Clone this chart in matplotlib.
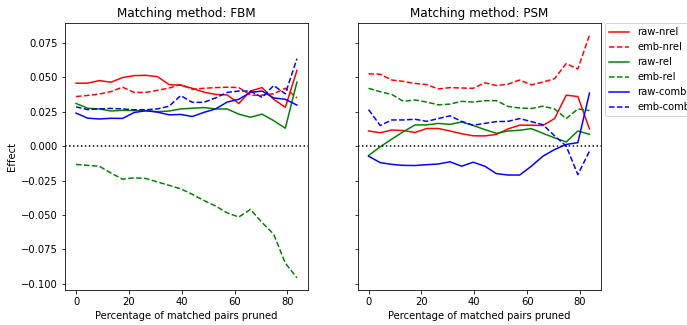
import numpy as np
import matplotlib
matplotlib.use('Agg')
import matplotlib.pyplot as plt

# percentage of matched pairs pruned
pruned = [0, 4.4, 8.8, 13.2, 17.6, 22.0, 26.4, 30.8, 35.2, 39.6,
          44.0, 48.4, 52.8, 57.2, 61.6, 66.0, 70.4, 74.8, 79.2, 83.6]

#**************************** FBM ********************************
fbm_raw_nrel = [0.0457, 0.0457, 0.0476, 0.0464, 0.0498, 0.0512, 0.0514, 0.0505, 0.0447, 0.0442,
                0.0420, 0.0392, 0.0375, 0.0372, 0.0310, 0.0400, 0.0425, 0.0340, 0.0282, 0.0550]
fbm_emb_nrel = [0.0360, 0.0368, 0.0378, 0.0396, 0.0428, 0.0390, 0.0390, 0.0405, 0.0422, 0.0447,
                0.0413, 0.0420, 0.0425, 0.0428, 0.0425, 0.0370, 0.0370, 0.0380, 0.0420, 0.0350]
fbm_raw_rel = [0.0310, 0.0275, 0.0270, 0.0255, 0.0260, 0.0258, 0.0257, 0.0250, 0.0255, 0.0270,
               0.0275, 0.0280, 0.0270, 0.0270, 0.0232, 0.0210, 0.0232, 0.0185, 0.0130, 0.0465]
fbm_emb_rel = [-0.0133, -0.0140, -0.0146, -0.0195, -0.0240, -0.0230, -0.0235, -0.0260, -0.0285, -0.0310,
               -0.0350, -0.0395, -0.0435, -0.0485, -0.0515, -0.0460, -0.0555, -0.0640, -0.0850, -0.0957]
fbm_raw_comb = [0.0240, 0.0203, 0.0197, 0.0202, 0.0201, 0.0244, 0.0257, 0.0247, 0.0227, 0.0230,
                0.0215, 0.0245, 0.0270, 0.0320, 0.0340, 0.0390, 0.0400, 0.0350, 0.0340, 0.0298]
fbm_emb_comb = [0.0285, 0.0265, 0.0270, 0.0274, 0.0270, 0.0264, 0.0264, 0.0270, 0.0290, 0.0367,
                0.0318, 0.0318, 0.0350, 0.0390, 0.0400, 0.0400, 0.0354, 0.0440, 0.0380, 0.0635]

#**************************** PSM ********************************
psm_raw_nrel = [0.0110, 0.0097, 0.0117, 0.0113, 0.0099, 0.0128, 0.0128, 0.0110, 0.0090, 0.0075,
                0.0074, 0.0085, 0.0125, 0.0152, 0.0152, 0.0150, 0.0200, 0.0370, 0.0360, 0.0125]
psm_emb_nrel = [0.0525, 0.0522, 0.0480, 0.0470, 0.0455, 0.0447, 0.0415, 0.0425, 0.0422, 0.0420,
                0.0460, 0.0440, 0.0450, 0.0480, 0.0445, 0.0465, 0.0490, 0.0600, 0.0560, 0.0806]
psm_raw_rel = [-0.0068, -0.0005, 0.0051, 0.0105, 0.0154, 0.0154, 0.0165, 0.0158, 0.0175, 0.0150,
               0.0120, 0.0093, 0.0110, 0.0115, 0.0127, 0.0093, 0.0060, 0.0030, 0.0110, 0.0086]
psm_emb_rel = [0.0420, 0.0395, 0.0375, 0.0325, 0.0335, 0.0320, 0.0300, 0.0305, 0.0325, 0.0320,
               0.0330, 0.0330, 0.0288, 0.0277, 0.0273, 0.0290, 0.0270, 0.0200, 0.0270, 0.0258]
psm_raw_comb = [-0.0073, -0.0120, -0.0133, -0.0140, -0.0141, -0.0135, -0.0130, -0.0114, -0.0146, -0.0117,
                -0.0146, -0.0200, -0.0210, -0.0210, -0.0146, -0.0073, -0.0025, 0.0012, 0.0025, 0.0385]
psm_emb_comb = [0.0265, 0.0150, 0.0190, 0.0190, 0.0195, 0.0180, 0.0200, 0.0220, 0.0180, 0.0152,
                0.0165, 0.0178, 0.0180, 0.0200, 0.0178, 0.0155, 0.0075, 0.0000, -0.0207, -0.0037]

labels = ['raw-nrel', 'emb-nrel', 'raw-rel', 'emb-rel', 'raw-comb', 'emb-comb']
styles = ['r-', 'r--', 'g-', 'g--', 'b-', 'b--']

fig = plt.figure(figsize=(687/72., 325/72.))
ax1 = fig.add_axes([0.0946, 0.1077, 0.3537, 0.8215])
ax2 = fig.add_axes([0.5204, 0.1077, 0.3537, 0.8215], sharey=ax1)

fbm = [fbm_raw_nrel, fbm_emb_nrel, fbm_raw_rel, fbm_emb_rel, fbm_raw_comb, fbm_emb_comb]
psm = [psm_raw_nrel, psm_emb_nrel, psm_raw_rel, psm_emb_rel, psm_raw_comb, psm_emb_comb]

for ax, series, name in [(ax1, fbm, 'FBM'), (ax2, psm, 'PSM')]:
    for y, st, lab in zip(series, styles, labels):
        ax.plot(pruned, y, st, label=lab)
    ax.axhline(0, color='k', linestyle=':')
    ax.set_title('Matching method: ' + name)
    ax.set_xlabel('Percentage of matched pairs pruned')

ax1.set_ylabel('Effect')
plt.setp(ax2.get_yticklabels(), visible=False)
ax2.legend(loc='upper left', bbox_to_anchor=(1.02, 1), borderaxespad=0)

plt.savefig('out.png', dpi=72)
